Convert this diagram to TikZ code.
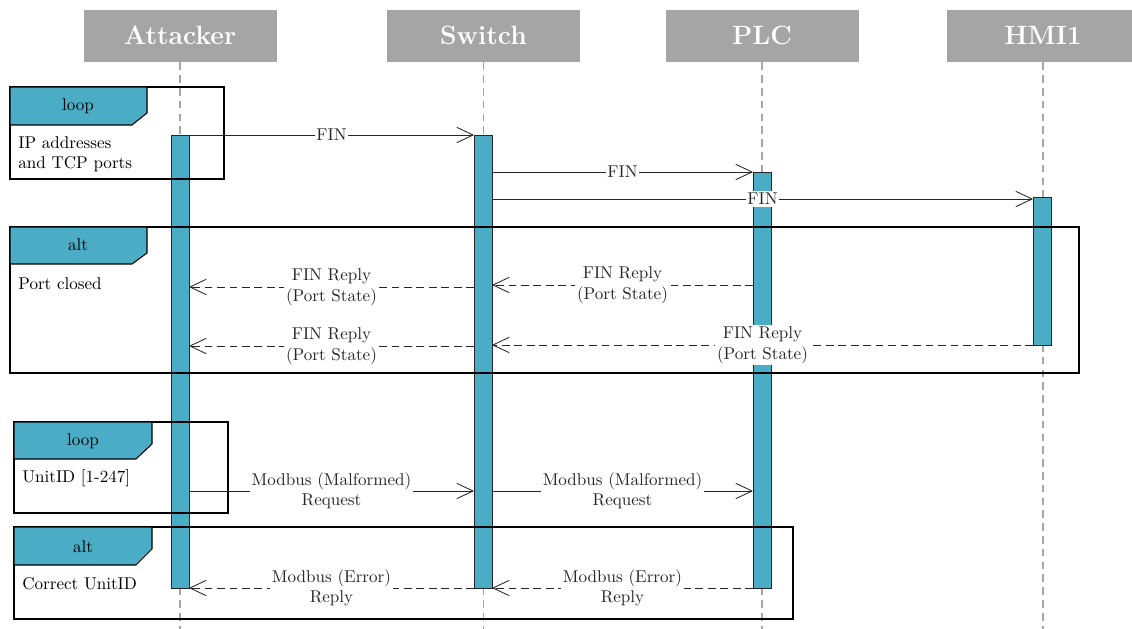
\documentclass[tikz,border=0pt]{standalone}
\usetikzlibrary{arrows.meta,fit}
\definecolor{hdrgray}{HTML}{A5A5A5}
\definecolor{barteal}{HTML}{4BACC6}
\begin{document}
\begin{tikzpicture}[x=0.5858pt,y=-0.5858pt,
  hdr/.style={fill=hdrgray, draw=white, text=white, font=\fontsize{15.5}{18}\selectfont\bfseries, minimum width=113.6pt, minimum height=31pt, inner sep=0pt},
  lifeline/.style={draw=gray!70, dash pattern=on 4.5pt off 3pt, line width=0.6pt},
  actbar/.style={fill=barteal, draw=black!85, line width=0.5pt, inner sep=0pt},
  frm/.style={draw=black, line width=0.6pt},
  tabshape/.style={fill=barteal, draw=black, line width=0.6pt},
  msg/.style={draw=black!85, line width=0.5pt, -{Straight Barb[length=9.5pt,width=9pt,line width=0.5pt]}},
  reply/.style={msg, dash pattern=on 4.5pt off 2.8pt},
  lbl/.style={fill=white, inner sep=1pt, align=center, text=black!85},
  ftxt/.style={anchor=west, align=left, inner sep=0pt},
  tabtxt/.style={inner sep=0pt}
]
\useasboundingbox (0,0) rectangle (1132,629);
\clip (0,0) rectangle (1132,629);
\coordinate (bot) at (0,629);

% headers
\node[hdr] (hA) at (180,35.5) {Attacker};
\node[hdr] (hS) at (483.5,35.5) {Switch};
\node[hdr] (hP) at (762,35.5) {PLC};
\node[hdr] (hH) at (1043,35.5) {HMI1};

% lifelines
\draw[lifeline] (hA.south) -- (hA.south |- bot);
\draw[lifeline] (hS.south) -- (hS.south |- bot);
\draw[lifeline] (hP.south) -- (hP.south |- bot);
\draw[lifeline] (hH.south) -- (hH.south |- bot);

% activation bars
\node[actbar, fit={(171,135) (189,588)}] (barA) {};
\node[actbar, fit={(474,135) (492,588)}] (barS) {};
\node[actbar, fit={(753,172) (771,588)}] (barP) {};
\node[actbar, fit={(1033,197) (1051,345)}] (barH) {};

% frames
\draw[frm] (10,87) rectangle (224,179);
\draw[tabshape] (10,87) -- (147,87) -- (147,113) -- (132,125) -- (10,125) -- cycle;
\node[tabtxt] (t1) at (78,106) {loop};
\node[ftxt] (f1) at (18,154) {IP addresses\\and TCP ports};

\draw[frm] (10,227) rectangle (1079,373);
\draw[tabshape] (10,227) -- (147,227) -- (147,253) -- (132,264) -- (10,264) -- cycle;
\node[tabtxt] (t2) at (78,245) {alt};
\node[ftxt] (f2) at (18,284) {Port closed};

\draw[frm] (14,422) rectangle (228,513);
\draw[tabshape] (14,422) -- (152,422) -- (152,444) -- (136,459) -- (14,459) -- cycle;
\node[tabtxt] (t3) at (83,441) {loop};
\node[ftxt] (f3) at (22,478) {UnitID [1-247]};

\draw[frm] (14,527) rectangle (793,619);
\draw[tabshape] (14,527) -- (152,527) -- (152,549) -- (136,565) -- (14,565) -- cycle;
\node[tabtxt] (t4) at (83,547) {alt};
\node[ftxt] (f4) at (22,584) {Correct UnitID};

% message end points
\coordinate (a1) at (189,135);  \coordinate (s1) at (474,135);
\coordinate (s2) at (492,172);  \coordinate (p2) at (753,172);
\coordinate (s3) at (492,199);  \coordinate (h3) at (1033,199);
\coordinate (p4) at (753,285);  \coordinate (s4) at (492,285);
\coordinate (s5) at (474,287);  \coordinate (a5) at (189,287);
\coordinate (h6) at (1033,345); \coordinate (s6) at (492,345);
\coordinate (s7) at (474,346);  \coordinate (a7) at (189,346);
\coordinate (a8) at (189,491);  \coordinate (s8) at (474,491);
\coordinate (s9) at (492,491);  \coordinate (p9) at (753,491);
\coordinate (p10) at (753,588); \coordinate (s10) at (492,588);
\coordinate (s11) at (474,588); \coordinate (a11) at (189,588);

% messages
\draw[msg] (a1) -- node[lbl] (l1) {FIN} (s1);
\draw[msg] (s2) -- node[lbl] (l2) {FIN} (p2);
\draw[msg] (s3) -- node[lbl] (l3) {FIN} (h3);
\draw[reply] (p4) -- node[lbl] (l4) {FIN Reply\\(Port State)} (s4);
\draw[reply] (s5) -- node[lbl] (l5) {FIN Reply\\(Port State)} (a5);
\draw[reply] (h6) -- node[lbl] (l6) {FIN Reply\\(Port State)} (s6);
\draw[reply] (s7) -- node[lbl] (l7) {FIN Reply\\(Port State)} (a7);
\draw[msg] (a8) -- node[lbl] (l8) {Modbus (Malformed)\\Request} (s8);
\draw[msg] (s9) -- node[lbl] (l9) {Modbus (Malformed)\\Request} (p9);
\draw[reply] (p10) -- node[lbl] (l10) {Modbus (Error)\\Reply} (s10);
\draw[reply] (s11) -- node[lbl] (l11) {Modbus (Error)\\Reply} (a11);
\end{tikzpicture}
\end{document}
